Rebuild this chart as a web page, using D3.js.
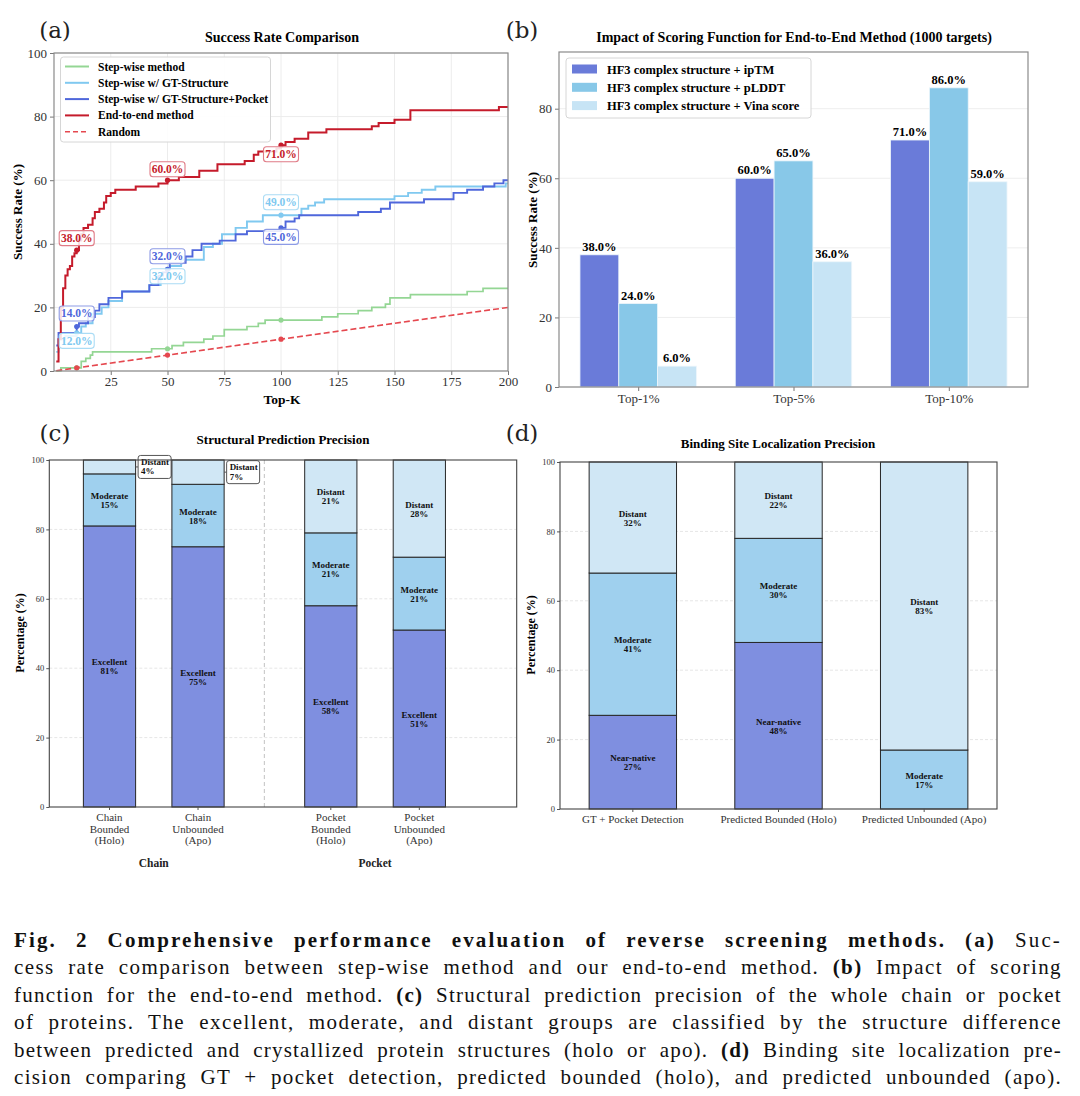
<!DOCTYPE html>
<html>
<head>
<meta charset="utf-8">
<script src="https://cdn.jsdelivr.net/npm/d3@7"></script>
<style>
  body { margin: 0; background: #fff; }
  text { font-family: "Liberation Serif", "Times New Roman", serif; }
</style>
</head>
<body>
<svg id="fig" width="1080" height="1096"></svg>
<script>
// ---------- data: panel (a) success rate vs Top-K (step breakpoints [k, %]) ----------
var stepWise = [[1,0],[3,1],[12,3],[14,4],[16,5],[17,6],[43,7],[52,8],[57,9],[66,10],[70,11],[75,13],[85,14],[90,15],[93,16],[118,17],[125,18],[134,19],[140,20],[146,21],[148,23],[157,24],[182,25],[189,26],[200,26]];
var gtStructure = [[1,6],[2,10],[5,11],[10,12],[12,14],[14,15],[17,18],[21,20],[24,22],[30,25],[42,27],[47,29],[50,32],[51,33],[56,35],[66,39],[70,40],[74,43],[80,45],[85,47],[92,49],[109,51],[112,52],[115,53],[119,54],[150,55],[156,56],[162,57],[168,58],[199,59],[200,59]];
var gtPocket = [[1,8],[2,12],[10,14],[11,15],[15,17],[18,19],[20,21],[24,23],[30,25],[42,27],[46,30],[48,31],[50,32],[51,34],[58,36],[61,38],[65,40],[73,41],[80,43],[85,44],[100,45],[102,47],[106,48],[108,49],[134,50],[144,51],[148,53],[163,54],[176,56],[182,57],[189,58],[194,59],[198,60],[200,60]];
var endToEnd = [[1,3],[2,10],[3,20],[4,26],[5,30],[6,32],[7,33],[8,36],[9,37],[10,38],[11,41],[12,43],[13,45],[15,46],[17,48],[18,50],[20,51],[22,53],[23,55],[25,56],[27,57],[36,58],[46,59],[50,60],[55,61],[64,63],[72,65],[84,66],[88,68],[90,69],[98,70],[100,71],[102,72],[106,73],[112,75],[120,76],[140,77],[143,78],[150,79],[157,82],[196,83],[200,83]];
var randomLine = [[1,0.1],[200,20]];
var markK = [10, 50, 100];
var topKTicks = [25, 50, 75, 100, 125, 150, 175, 200];
var rateTicks = [0, 20, 40, 60, 80, 100];
var lineNames = ['Step-wise method', 'Step-wise w/ GT-Structure', 'Step-wise w/ GT-Structure+Pocket', 'End-to-end method', 'Random'];

// ---------- data: panel (b) ----------
var scoreGroups = ['Top-1%', 'Top-5%', 'Top-10%'];
var scoreNames = ['HF3 complex structure + ipTM', 'HF3 complex structure + pLDDT', 'HF3 complex structure + Vina score'];
var ipTM = [38, 60, 71];
var pLDDT = [24, 65, 86];
var vina = [6, 36, 59];
var scoreTicks = [0, 20, 40, 60, 80];

// ---------- data: panel (c) ----------
var structCats = ['Chain\nBounded\n(Holo)', 'Chain\nUnbounded\n(Apo)', 'Pocket\nBounded\n(Holo)', 'Pocket\nUnbounded\n(Apo)'];
var structGroups = ['Chain', 'Pocket'];
var structExcellent = [81, 75, 58, 51];
var structModerate = [15, 18, 21, 21];
var structDistant = [4, 7, 21, 28];

// ---------- data: panel (d) ----------
var siteCats = ['GT + Pocket Detection', 'Predicted Bounded (Holo)', 'Predicted Unbounded (Apo)'];
var siteNear = [27, 48, 0];
var siteModerate = [41, 30, 17];
var siteDistant = [32, 22, 83];
var pctTicks = [0, 20, 40, 60, 80, 100];

// ---------- caption ----------
var captionLines = [
  [['Fig. 2  Comprehensive performance evaluation of reverse screening methods. ', 1], ['(a)', 1], [' Suc-', 0]],
  [['cess rate comparison between step-wise method and our end-to-end method. ', 0], ['(b)', 1], [' Impact of scoring', 0]],
  [['function for the end-to-end method. ', 0], ['(c)', 1], [' Structural prediction precision of the whole chain or pocket', 0]],
  [['of proteins. The excellent, moderate, and distant groups are classified by the structure difference', 0]],
  [['between predicted and crystallized protein structures (holo or apo). ', 0], ['(d)', 1], [' Binding site localization pre-', 0]],
  [['cision comparing GT + pocket detection, predicted bounded (holo), and predicted unbounded (apo).', 0]]
];

var svg = d3.select('#fig');

function panelLetter(x, y, t) {
  svg.append('text').attr('x', x).attr('y', y).attr('text-anchor', 'middle')
    .style('font-size', '23px').style('font-family', '"DejaVu Serif", serif').attr('fill', '#222').text(t);
}
function title(x, y, t, size) {
  svg.append('text').attr('x', x).attr('y', y).attr('text-anchor', 'middle')
    .style('font-size', size + 'px').style('font-weight', 'bold').text(t);
}
function yLabel(x, y, t, size) {
  svg.append('text').attr('transform', 'translate(' + x + ',' + y + ') rotate(-90)')
    .attr('text-anchor', 'middle').style('font-size', size + 'px').style('font-weight', 'bold').text(t);
}
function valueAt(series, k) {
  var v = series[0][1];
  series.forEach(function (d) { if (d[0] <= k) v = d[1]; });
  return v;
}

// ================= panel (a) =================
(function () {
  var x = d3.scaleLinear().domain([0, 200]).range([54, 508]);
  var y = d3.scaleLinear().domain([0, 100]).range([371, 53]);
  var g = svg.append('g');

  g.selectAll('line.vg').data(topKTicks).enter().append('line')
    .attr('x1', x).attr('x2', x).attr('y1', y(0)).attr('y2', y(100))
    .attr('stroke', '#ececec').attr('stroke-width', 1);
  g.selectAll('line.hg').data(rateTicks).enter().append('line')
    .attr('y1', y).attr('y2', y).attr('x1', x(0)).attr('x2', x(200))
    .attr('stroke', '#ececec').attr('stroke-width', 1);

  var xa = g.append('g').attr('transform', 'translate(0,371)')
    .call(d3.axisBottom(x).tickValues(topKTicks).tickSize(4).tickPadding(2));
  var ya = g.append('g').attr('transform', 'translate(54,0)')
    .call(d3.axisLeft(y).tickValues(rateTicks).tickSize(4).tickPadding(3));
  [xa, ya].forEach(function (a) {
    a.select('.domain').remove();
    a.selectAll('text').style('font-size', '13px').style('font-family', '"Liberation Serif", serif').attr('fill', '#333');
    a.selectAll('line').attr('stroke', '#777');
  });

  var colors = ['#94d694', '#80c9f0', '#4f67db', '#c51b2b', '#e5484f'];
  var series = [stepWise, gtStructure, gtPocket, endToEnd];
  var widths = [1.7, 1.9, 1.9, 2];
  var line = d3.line().x(function (d) { return x(d[0]); }).y(function (d) { return y(d[1]); }).curve(d3.curveStepAfter);

  series.forEach(function (s, i) {
    g.append('path').datum(s).attr('d', line).attr('fill', 'none')
      .attr('stroke', colors[i]).attr('stroke-width', widths[i]);
  });
  g.append('path').datum(randomLine).attr('d', d3.line().x(function (d) { return x(d[0]); }).y(function (d) { return y(d[1]); }))
    .attr('fill', 'none').attr('stroke', colors[4]).attr('stroke-width', 1.6).attr('stroke-dasharray', '6,3');

  // dots at k = 10, 50, 100
  series.forEach(function (s, i) {
    g.selectAll(null).data(markK).enter().append('circle')
      .attr('cx', function (k) { return x(k); }).attr('cy', function (k) { return y(valueAt(s, k)); })
      .attr('r', 2.6).attr('fill', colors[i]);
  });
  g.selectAll(null).data(markK).enter().append('circle')
    .attr('cx', function (k) { return x(k); })
    .attr('cy', function (k) { return y(randomLine[0][1] + (k - randomLine[0][0]) * (randomLine[1][1] - randomLine[0][1]) / (randomLine[1][0] - randomLine[0][0])); })
    .attr('r', 2.6).attr('fill', colors[4]);

  // annotation boxes: series index, vertical offset of each label
  var ann = [
    { s: 2, off: [-13, -13, 9], stroke: '#8d9be6' },
    { s: 1, off: [8, 7, -13], stroke: '#aadcf5' },
    { s: 3, off: [-12, -11, 9], stroke: '#e07b86' }
  ];
  ann.forEach(function (a) {
    markK.forEach(function (k, j) {
      var v = valueAt(series[a.s], k);
      var cx = x(k), cy = y(v) + a.off[j];
      g.append('rect').attr('x', cx - 17.5).attr('y', cy - 7.5).attr('width', 35).attr('height', 15)
        .attr('rx', 3).attr('fill', '#fff').attr('fill-opacity', 0.85)
        .attr('stroke', a.stroke).attr('stroke-width', 1.1);
      g.append('text').attr('x', cx).attr('y', cy + 4).attr('text-anchor', 'middle')
        .style('font-size', '11.5px').style('font-weight', 'bold').attr('fill', colors[a.s])
        .text(v.toFixed(1) + '%');
    });
  });

  g.append('rect').attr('x', 54).attr('y', 53).attr('width', 454).attr('height', 318)
    .attr('fill', 'none').attr('stroke', '#8a8a8a').attr('stroke-width', 1.2);

  // legend
  var lg = g.append('g');
  lg.append('rect').attr('x', 60.5).attr('y', 57).attr('width', 210).attr('height', 85).attr('rx', 3)
    .attr('fill', '#fff').attr('fill-opacity', 0.9).attr('stroke', '#d6d6d6');
  lineNames.forEach(function (n, i) {
    var ly = 66.5 + i * 16.3;
    lg.append('line').attr('x1', 65).attr('x2', 89).attr('y1', ly).attr('y2', ly)
      .attr('stroke', colors[i]).attr('stroke-width', i === 4 ? 1.6 : 2)
      .attr('stroke-dasharray', i === 4 ? '5,3' : null);
    lg.append('text').attr('x', 98).attr('y', ly + 4).style('font-size', '11.5px').style('font-weight', 'bold').text(n);
  });

  title(282, 42, 'Success Rate Comparison', 14);
  yLabel(22, 212, 'Success Rate (%)', 13);
  svg.append('text').attr('x', 282).attr('y', 404).attr('text-anchor', 'middle')
    .style('font-size', '13.5px').style('font-weight', 'bold').text('Top-K');
  panelLetter(55, 38, '(a)');
})();

// ================= panel (b) =================
(function () {
  var x = d3.scaleLinear().domain([-0.51, 2.51]).range([559, 1028]);
  var y = d3.scaleLinear().domain([0, 96.3]).range([387, 52]);
  var g = svg.append('g');
  var colors = ['#6a7bd9', '#88c8e8', '#c7e4f5'];
  var vals = [ipTM, pLDDT, vina];
  var bw = 0.25;

  g.selectAll(null).data(scoreTicks).enter().append('line')
    .attr('y1', y).attr('y2', y).attr('x1', 559).attr('x2', 1028).attr('stroke', '#eeeeee');

  vals.forEach(function (s, j) {
    g.selectAll(null).data(s).enter().append('rect')
      .attr('x', function (d, i) { return x(i + (j - 1) * bw - bw / 2); })
      .attr('width', x(bw) - x(0))
      .attr('y', function (d) { return y(d); })
      .attr('height', function (d) { return y(0) - y(d); })
      .attr('fill', colors[j]).attr('stroke', '#eef6fb').attr('stroke-width', 0.8);
    g.selectAll(null).data(s).enter().append('text')
      .attr('x', function (d, i) { return x(i + (j - 1) * bw); })
      .attr('y', function (d) { return y(d) - 4; })
      .attr('text-anchor', 'middle').style('font-size', '12.5px').style('font-weight', 'bold')
      .text(function (d) { return d.toFixed(1) + '%'; });
  });

  var xa = g.append('g').attr('transform', 'translate(0,387)')
    .call(d3.axisBottom(x).tickValues([0, 1, 2]).tickFormat(function (d) { return scoreGroups[d]; }).tickSize(4).tickPadding(3));
  var ya = g.append('g').attr('transform', 'translate(559,0)')
    .call(d3.axisLeft(y).tickValues(scoreTicks).tickSize(4).tickPadding(3));
  [xa, ya].forEach(function (a) {
    a.select('.domain').remove();
    a.selectAll('text').style('font-size', '13px').style('font-family', '"Liberation Serif", serif').attr('fill', '#333');
    a.selectAll('line').attr('stroke', '#777');
  });
  g.append('rect').attr('x', 559).attr('y', 52).attr('width', 469).attr('height', 335)
    .attr('fill', 'none').attr('stroke', '#8a8a8a').attr('stroke-width', 1.2);

  var lg = g.append('g');
  lg.append('rect').attr('x', 566).attr('y', 58).attr('width', 245).attr('height', 60).attr('rx', 3)
    .attr('fill', '#fff').attr('fill-opacity', 0.9).attr('stroke', '#d6d6d6');
  scoreNames.forEach(function (n, i) {
    var ly = 69 + i * 18.3;
    lg.append('rect').attr('x', 572).attr('y', ly - 4.5).attr('width', 25).attr('height', 9).attr('fill', colors[i]);
    lg.append('text').attr('x', 607).attr('y', ly + 4.5).style('font-size', '12.5px').style('font-weight', 'bold').text(n);
  });

  title(794, 42, 'Impact of Scoring Function for End-to-End Method (1000 targets)', 14);
  yLabel(537, 220, 'Success Rate (%)', 13);
  panelLetter(522, 38, '(b)');
})();

// ---------- stacked bar helper for (c) and (d) ----------
var segColors = ['#7f8fe0', '#9fd0ee', '#d0e7f5'];
function stacked(g, x, y, pos, layers, names, bw, smallBoxes) {
  pos.forEach(function (p, i) {
    var base = 0;
    layers.forEach(function (layer, j) {
      var v = layer[i];
      if (v > 0) {
        g.append('rect').attr('x', x(p - bw / 2)).attr('width', x(bw) - x(0))
          .attr('y', y(base + v)).attr('height', y(base) - y(base + v))
          .attr('fill', segColors[j]).attr('stroke', '#262626').attr('stroke-width', 1);
        var mid = y(base + v / 2);
        if (v >= 10 || !smallBoxes) {
          var t = g.append('text').attr('text-anchor', 'middle').style('font-size', '9px').style('font-weight', 'bold').attr('fill', '#111');
          t.append('tspan').attr('x', x(p)).attr('y', mid - 1).text(names[j]);
          t.append('tspan').attr('x', x(p)).attr('y', mid + 8).text(v + '%');
        } else {
          var bx = x(p + bw / 2) + 2.5;
          g.append('line').attr('x1', x(p + bw / 2)).attr('x2', bx).attr('y1', mid).attr('y2', mid).attr('stroke', '#555');
          g.append('rect').attr('x', bx).attr('y', mid - 11.5).attr('width', 33).attr('height', 23).attr('rx', 2.5)
            .attr('fill', '#fff').attr('stroke', '#555').attr('stroke-width', 1);
          var t2 = g.append('text').style('font-size', '9px').style('font-weight', 'bold').attr('fill', '#111');
          t2.append('tspan').attr('x', bx + 3).attr('y', mid - 2).text(names[j]);
          t2.append('tspan').attr('x', bx + 3).attr('y', mid + 7.5).text(v + '%');
        }
      }
      base += v;
    });
  });
}
function smallAxes(g, x, y, x0) {
  var ya = g.append('g').attr('transform', 'translate(' + x0 + ',0)')
    .call(d3.axisLeft(y).tickValues(pctTicks).tickSize(3).tickPadding(2));
  ya.select('.domain').remove();
  ya.selectAll('text').style('font-size', '8.5px').style('font-family', '"Liberation Serif", serif').attr('fill', '#333');
  ya.selectAll('line').attr('stroke', '#555');
}

// ================= panel (c) =================
(function () {
  var pos = [0, 1, 2.5, 3.5];
  var x = d3.scaleLinear().domain([-0.68, 4.6]).range([49.3, 516.7]);
  var y = d3.scaleLinear().domain([0, 100]).range([807, 460]);
  var g = svg.append('g');

  g.selectAll(null).data([20, 40, 60, 80]).enter().append('line')
    .attr('y1', y).attr('y2', y).attr('x1', 49.3).attr('x2', 516.7)
    .attr('stroke', '#e6e6e6').attr('stroke-dasharray', '3,2');
  g.append('line').attr('x1', x(1.75)).attr('x2', x(1.75)).attr('y1', 460).attr('y2', 807)
    .attr('stroke', '#cccccc').attr('stroke-width', 1.2).attr('stroke-dasharray', '4,3');

  stacked(g, x, y, pos, [structExcellent, structModerate, structDistant], ['Excellent', 'Moderate', 'Distant'], 0.59, true);

  smallAxes(g, x, y, 49.3);
  g.append('rect').attr('x', 49.3).attr('y', 460).attr('width', 467.4).attr('height', 347)
    .attr('fill', 'none').attr('stroke', '#444').attr('stroke-width', 1.1);

  pos.forEach(function (p, i) {
    g.append('line').attr('x1', x(p)).attr('x2', x(p)).attr('y1', 807).attr('y2', 810).attr('stroke', '#555');
    var t = g.append('text').attr('text-anchor', 'middle').style('font-size', '11px').attr('fill', '#333');
    structCats[i].split('\n').forEach(function (s, k) {
      t.append('tspan').attr('x', x(p)).attr('y', 821 + k * 11.6).text(s);
    });
  });
  structGroups.forEach(function (s, k) {
    var c = (x(pos[k * 2]) + x(pos[k * 2 + 1])) / 2;
    g.append('text').attr('x', c).attr('y', 867).attr('text-anchor', 'middle')
      .style('font-size', '11.5px').style('font-weight', 'bold').attr('fill', '#222').text(s);
  });

  title(283, 444, 'Structural Prediction Precision', 13);
  yLabel(24, 633, 'Percentage (%)', 12);
  panelLetter(55, 441, '(c)');
})();

// ================= panel (d) =================
(function () {
  var pos = [0, 1, 2];
  var x = d3.scaleLinear().domain([-0.5, 2.5]).range([560, 997]);
  var y = d3.scaleLinear().domain([0, 100]).range([809, 462]);
  var g = svg.append('g');

  g.selectAll(null).data([20, 40, 60, 80]).enter().append('line')
    .attr('y1', y).attr('y2', y).attr('x1', 560).attr('x2', 997)
    .attr('stroke', '#e6e6e6').attr('stroke-dasharray', '3,2');

  stacked(g, x, y, pos, [siteNear, siteModerate, siteDistant], ['Near-native', 'Moderate', 'Distant'], 0.6, false);

  smallAxes(g, x, y, 560);
  g.append('rect').attr('x', 560).attr('y', 462).attr('width', 437).attr('height', 347)
    .attr('fill', 'none').attr('stroke', '#444').attr('stroke-width', 1.1);

  pos.forEach(function (p, i) {
    g.append('line').attr('x1', x(p)).attr('x2', x(p)).attr('y1', 809).attr('y2', 812).attr('stroke', '#555');
    g.append('text').attr('x', x(p)).attr('y', 823).attr('text-anchor', 'middle')
      .style('font-size', '11px').attr('fill', '#333').text(siteCats[i]);
  });

  title(778, 448, 'Binding Site Localization Precision', 13);
  yLabel(535, 635, 'Percentage (%)', 12);
  panelLetter(522, 441, '(d)');
})();

// ================= caption (justified: share the slack between letters and word gaps) =================
captionLines.forEach(function (ln, i) {
  var t = svg.append('text').attr('x', 14).attr('y', 947 + i * 27.4)
    .style('font-size', '21px').style('font-family', '"Liberation Serif", "Times New Roman", serif')
    .attr('fill', '#111');
  var spaces = 0, chars = 0;
  ln.forEach(function (seg) {
    var s = seg[0].replace(/\s+/g, ' ');
    t.append('tspan').style('font-weight', seg[1] ? 'bold' : 'normal').text(seg[0]);
    spaces += (s.match(/ /g) || []).length;
    chars += s.length;
  });
  var w0 = t.node().getComputedTextLength();
  if (w0 < 1048) {
    t.style('letter-spacing', (0.6 * (1048 - w0) / chars) + 'px');
    var w1 = t.node().getComputedTextLength();
    t.style('word-spacing', ((1048 - w1) / spaces) + 'px');
  } else {
    t.attr('textLength', 1048).attr('lengthAdjust', 'spacingAndGlyphs');
  }
});
</script>
</body>
</html>
